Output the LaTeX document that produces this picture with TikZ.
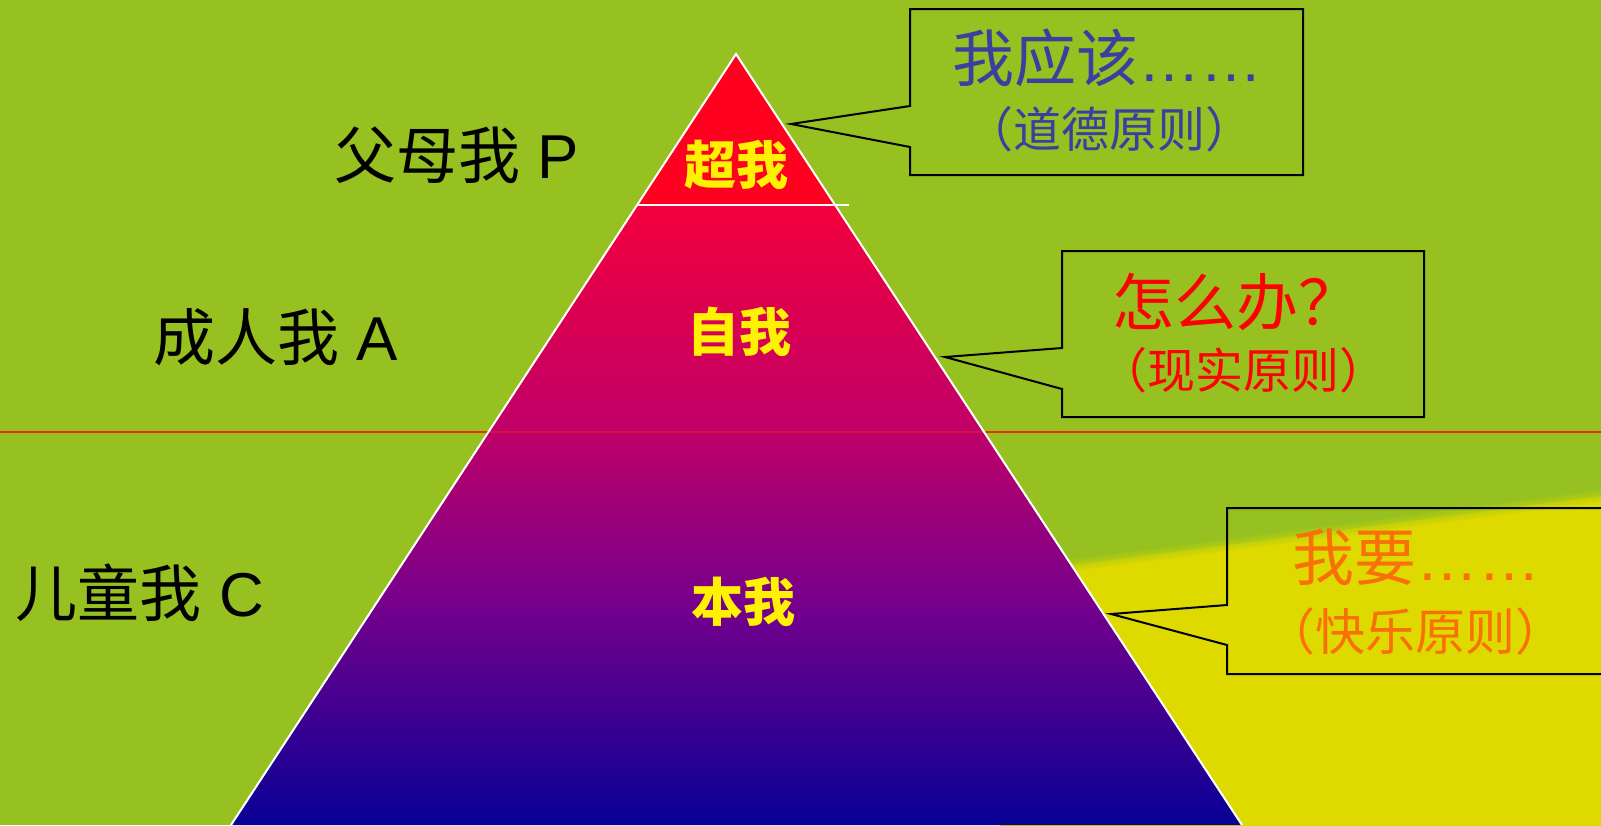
\documentclass[tikz,border=0pt]{standalone}
\usepackage{fontspec}
\setmainfont{Liberation Sans}
\newfontfamily\cjk{Noto Sans CJK SC}
\definecolor{bg}{RGB}{150,193,32}
\definecolor{yel}{RGB}{222,218,0}
\definecolor{topred}{RGB}{255,0,30}
\definecolor{ca}{RGB}{243,0,60}
\definecolor{cb}{RGB}{192,0,104}
\definecolor{cc}{RGB}{118,0,140}
\definecolor{cd}{RGB}{8,0,150}
\definecolor{txtblue}{RGB}{62,62,160}
\definecolor{txtred}{RGB}{255,0,0}
\definecolor{txtorange}{RGB}{250,112,8}
\definecolor{linered}{RGB}{235,45,10}
\pgfdeclareverticalshading{pyr}{100bp}{color(0bp)=(cd); color(25bp)=(cd); color(43bp)=(cc); color(57bp)=(cb); color(75bp)=(ca); color(100bp)=(ca)}
\begin{document}
\begin{tikzpicture}[x=1pt,y=-1pt,
  lab/.style={inner sep=0pt,font=\fontsize{62}{72}\selectfont},
  tri/.style={inner sep=0pt,text=yellow,font=\cjk\bfseries\fontsize{52}{60}\selectfont},
  bubble/.style={draw=black,line width=2pt,line join=miter},
  big/.style={inner sep=0pt,font=\cjk\fontsize{62}{70}\selectfont},
  small/.style={inner sep=0pt,font=\cjk\fontsize{48}{56}\selectfont}]
\useasboundingbox (0,0) rectangle (1601,825);
\clip (0,0) rectangle (1601,825);
\fill[bg] (0,0) rectangle (1601,825);
% yellow region with soft edge
\fill[yel] (1000,574) .. controls (1227,546) and (1400,522) .. (1610,495) -- (1610,830) -- (1000,830) -- cycle;
\foreach \w/\o in {12/0.25,8/0.3,4/0.35}
  \draw[line width=\w pt, bg!50!yel, opacity=\o] (1000,574) .. controls (1227,546) and (1400,522) .. (1610,495);
% red horizontal line
\draw[linered, line width=2pt] (0,432) -- (1601,432);
% pyramid
\coordinate (apex) at (736,54);
\coordinate (bl) at (231,825);
\coordinate (br) at (1242,825);
\coordinate (sl) at (637,205);
\coordinate (sr) at (835,205);
\coordinate (se) at (849,205);
\shade[shading=pyr] (sl) -- (sr) -- (br) -- (bl) -- cycle;
\shade[top color=topred, bottom color=topred!92!ca] (apex) -- (sr) -- (sl) -- cycle;
\draw[linered, line width=2pt, opacity=0.45] (488,432) -- (985,432);
\draw[white, line width=2pt, line join=miter] (bl) -- (apex) -- (br);
\draw[white, line width=2pt] (sl) -- (se);
% left labels
\node[lab] (lp) at (457,155) {{\cjk 父母我} P};
\node[lab] (la) at (276,337) {{\cjk 成人我} A};
\node[lab] (lc) at (140,593) {{\cjk 儿童我} C};
% pyramid labels
\node[tri] (superego) at (736,165) {超我};
\node[tri] (ego) at (739,332) {自我};
\node[tri] (id) at (743,602) {本我};
% callout 1
\draw[bubble] (910,9) -- (1303,9) -- (1303,175) -- (910,175) -- (910,147) -- (791,124) -- (910,106) -- cycle;
\node[big, text=txtblue] (b1a) at (1107,58) {我应该{\fontspec{Liberation Sans}……}};
\node[small, text=txtblue] (b1b) at (1109,129) {（道德原则）};
% callout 2
\draw[bubble] (1062,251) -- (1424,251) -- (1424,417) -- (1062,417) -- (1062,389) -- (945,357) -- (1062,348) -- cycle;
\node[big, text=txtred] (b2a) at (1236,302) {怎么办？};
\node[small, text=txtred] (b2b) at (1243,370) {（现实原则）};
% callout 3
\draw[bubble] (1620,508) -- (1227,508) -- (1227,605) -- (1111,614) -- (1227,645) -- (1227,674) -- (1620,674);
\node[big, text=txtorange] (b3a) at (1416,557) {我要{\fontspec{Liberation Sans}……}};
\node[small, text=txtorange, font=\cjk\fontsize{50}{58}\selectfont] (b3b) at (1415,631) {（快乐原则）};
\end{tikzpicture}
\end{document}
